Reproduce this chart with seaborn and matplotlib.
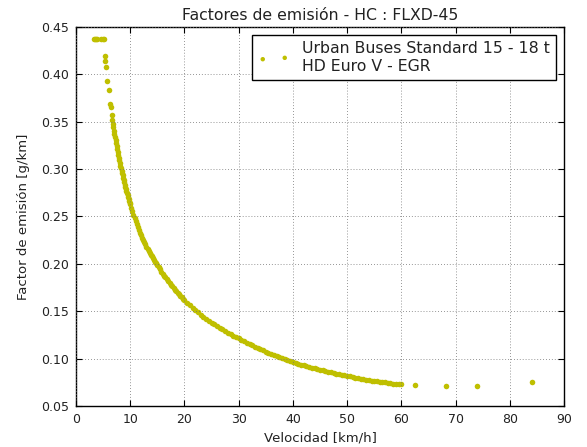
import matplotlib
matplotlib.use("Agg")
import matplotlib.pyplot as plt
import numpy as np
import seaborn as sns

# HC emission factor (g/km) versus speed (km/h), FLXD-45 bus
vel_arranque = [3.4, 3.5, 3.6, 3.8, 4.7, 4.9, 5.1, 5.3, 5.4, 5.55, 5.8, 6.1, 6.3, 6.4, 6.6]
hc_arranque = [0.4375, 0.4375, 0.4375, 0.4375, 0.4375, 0.4375, 0.4375,
               0.419, 0.414, 0.4075, 0.393, 0.3835, 0.369, 0.366, 0.357]

vel_baja = [6.7, 6.8, 6.9, 7.0, 7.1, 7.2, 7.3, 7.4, 7.5, 7.6,
            7.7, 7.8, 7.9, 8.0, 8.1, 8.2, 8.3, 8.4, 8.5, 8.6,
            8.7, 8.8, 8.9, 9.0, 9.1, 9.2, 9.3, 9.4, 9.5, 9.6,
            9.7, 9.8, 9.9, 10.0]
hc_baja = [0.3517, 0.3479, 0.3442, 0.3406, 0.3371, 0.3337, 0.3304, 0.3272, 0.3240, 0.3209,
           0.3179, 0.3149, 0.3120, 0.3092, 0.3064, 0.3037, 0.3010, 0.2984, 0.2958, 0.2933,
           0.2908, 0.2884, 0.2860, 0.2837, 0.2814, 0.2792, 0.2770, 0.2749, 0.2728, 0.2707,
           0.2687, 0.2667, 0.2647, 0.2628]

vel_media = [10.2, 10.4, 10.6, 10.8, 11.0, 11.2, 11.4, 11.6, 11.8, 12.0,
             12.2, 12.4, 12.6, 12.8, 13.0, 13.2, 13.4, 13.6, 13.8, 14.0,
             14.2, 14.4, 14.6, 14.8, 15.0,
             15.25, 15.5, 15.75, 16.0, 16.25, 16.5, 16.75, 17.0, 17.25, 17.5,
             17.75, 18.0, 18.25, 18.5, 18.75, 19.0, 19.25, 19.5, 19.75, 20.0]
hc_media = [0.2590, 0.2554, 0.2519, 0.2485, 0.2452, 0.2420, 0.2389, 0.2359, 0.2330, 0.2302,
            0.2277, 0.2252, 0.2228, 0.2205, 0.2182, 0.2160, 0.2139, 0.2118, 0.2098, 0.2078,
            0.2059, 0.2040, 0.2022, 0.2004, 0.1987,
            0.1964, 0.1941, 0.1919, 0.1898, 0.1877, 0.1857, 0.1837, 0.1818, 0.1799, 0.1781,
            0.1763, 0.1745, 0.1728, 0.1711, 0.1695, 0.1679, 0.1663, 0.1648, 0.1633, 0.1618]

vel_alta = [20.5, 21.0, 21.5, 22.0, 22.5, 23.0, 23.5, 24.0, 24.5, 25.0,
            25.5, 26.0, 26.5, 27.0, 27.5, 28.0, 28.5, 29.0, 29.5, 30.0,
            30.5, 31.0, 31.5, 32.0, 32.5, 33.0, 33.5, 34.0, 34.5, 35.0,
            35.5, 36.0, 36.5, 37.0, 37.5, 38.0, 38.5, 39.0, 39.5, 40.0,
            40.5, 41.0, 41.5, 42.0, 42.5, 43.0, 43.5, 44.0, 44.5, 45.0,
            45.5, 46.0, 46.5, 47.0, 47.5, 48.0, 48.5, 49.0, 49.5, 50.0,
            50.5, 51.0, 51.5, 52.0, 52.5, 53.0, 53.5, 54.0, 54.5, 55.0,
            55.5, 56.0, 56.5, 57.0, 57.5, 58.0, 58.5, 59.0, 59.5, 60.0]
hc_alta = [0.1590, 0.1563, 0.1537, 0.1512, 0.1488, 0.1465, 0.1443, 0.1422, 0.1401, 0.1381,
           0.1362, 0.1343, 0.1325, 0.1308, 0.1291, 0.1275, 0.1259, 0.1244, 0.1229, 0.1214,
           0.1198, 0.1183, 0.1169, 0.1154, 0.1140, 0.1126, 0.1113, 0.1099, 0.1087, 0.1074,
           0.1062, 0.1049, 0.1038, 0.1026, 0.1015, 0.1003, 0.0992, 0.0982, 0.0972, 0.0961,
           0.0952, 0.0944, 0.0936, 0.0928, 0.0920, 0.0912, 0.0904, 0.0897, 0.0890, 0.0883,
           0.0876, 0.0869, 0.0862, 0.0855, 0.0848, 0.0842, 0.0836, 0.0830, 0.0824, 0.0818,
           0.0812, 0.0806, 0.0800, 0.0794, 0.0789, 0.0784, 0.0779, 0.0774, 0.0769, 0.0764,
           0.0760, 0.0756, 0.0753, 0.0749, 0.0745, 0.0741, 0.0737, 0.0735, 0.0732, 0.0729]

vel_autopista = [62.6, 68.3, 74.0, 84.1]
hc_autopista = [0.0718, 0.0707, 0.0707, 0.0749]

x_ticks = [0, 10, 20, 30, 40, 50, 60, 70, 80, 90]
y_ticks = [0.05, 0.10, 0.15, 0.20, 0.25, 0.30, 0.35, 0.40, 0.45]
y_tick_labels = ["0.05", "0.10", "0.15", "0.20", "0.25", "0.30", "0.35", "0.40", "0.45"]

etiqueta = "Urban Buses Standard 15 - 18 t\nHD Euro V - EGR"

velocidad = vel_arranque + vel_baja + vel_media + vel_alta + vel_autopista
factor_hc = hc_arranque + hc_baja + hc_media + hc_alta + hc_autopista

sns.set_theme(style="white")
plt.rcParams['font.family'] = ['DejaVu Sans']
plt.rcParams['text.color'] = '#222222'
plt.rcParams['axes.labelcolor'] = '#222222'

fig = plt.figure(figsize=(5.87, 4.47), dpi=100)
ax = fig.add_axes([76 / 587, 1 - 406 / 447, 488 / 587, 379 / 447])

sns.scatterplot(x=velocidad, y=factor_hc, ax=ax, color='#bfbf00', s=16,
                linewidth=0, label=etiqueta, zorder=2)

ax.set_xlim(0, 90)
ax.set_ylim(0.05, 0.45)
ax.set_xticks(x_ticks)
ax.set_yticks(y_ticks)
ax.set_yticklabels(y_tick_labels)

ax.set_axisbelow(False)
ax.grid(True, color='0.45', linestyle=(0, (1, 2.5)), linewidth=0.6, zorder=3)
for sp in ax.spines.values():
    sp.set_color('black')
    sp.set_linewidth(1.0)
ax.tick_params(direction='in', top=True, right=True, bottom=True, left=True,
               length=4, width=0.8, labelsize=9, pad=5, colors='black',
               labelcolor='#222222')

ax.set_xlabel("Velocidad [km/h]", fontsize=9.5, labelpad=4)
ax.set_ylabel("Factor de emisión [g/km]", fontsize=9.5, labelpad=8)
ax.set_title("Factores de emisión - HC : FLXD-45", fontsize=11.3, pad=5)

leg = ax.legend(loc='upper right', scatterpoints=2, fontsize=11.3, frameon=True,
                fancybox=False, framealpha=1, edgecolor='black', borderpad=0.4,
                handlelength=2.0, handletextpad=0.8, borderaxespad=0.5,
                labelspacing=0.5, markerscale=0.8)
leg.get_frame().set_linewidth(1.0)

fig.savefig("out.png", dpi=100)
